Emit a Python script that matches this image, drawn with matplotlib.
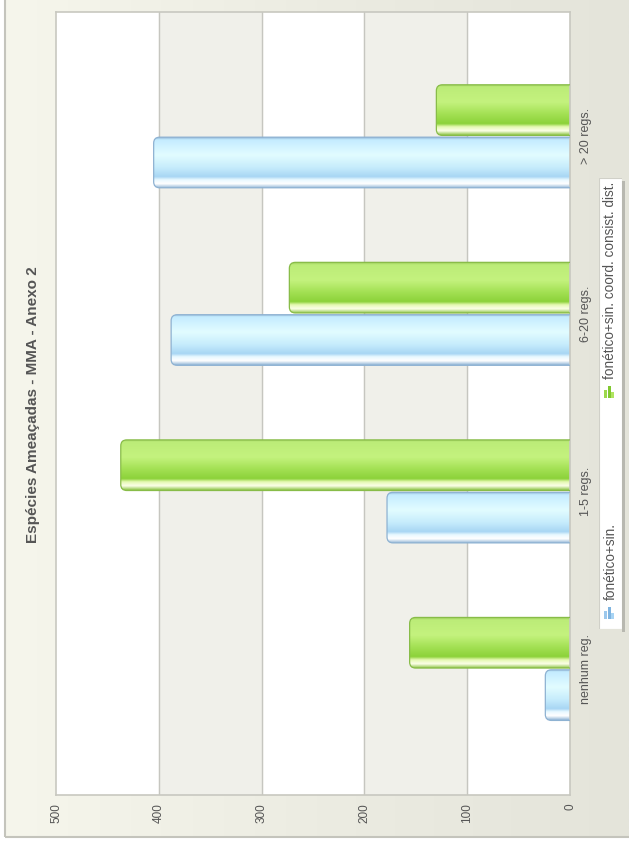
import numpy as np
import matplotlib.pyplot as plt
from matplotlib.patches import FancyBboxPatch, Rectangle
from matplotlib.colors import LinearSegmentedColormap

plt.rcParams['font.family'] = ['Liberation Sans', 'DejaVu Sans']

# Espécies ameaçadas por número de registros (gráfico girado 90°)
categories = ["nenhum reg.", "1-5 regs.", "6-20 regs.", "> 20 regs."]
series_names = ["fonético+sin.", "fonético+sin. coord. consist. dist."]
foneticos = [24, 178, 388, 405]
coord_dist = [156, 437, 273, 130]
value_ticks = [0, 100, 200, 300, 400, 500]

W, H = 629, 852
fig = plt.figure(figsize=(W / 100, H / 100), dpi=100)
fig.patch.set_facecolor("white")

# painel de fundo com degradê suave
bg = fig.add_axes([5 / W, (H - 837) / H, 1 - 5 / W, 837 / H])
bg.set_axis_off()
grad = np.linspace(0, 1, 256).reshape(1, -1)
bg_cmap = LinearSegmentedColormap.from_list("bg", ["#f6f6ec", "#ececE2", "#e4e4da"])
bg.imshow(grad, aspect="auto", cmap=bg_cmap, extent=[0, 1, 0, 1])
bg.add_patch(Rectangle((0, 0), 1.05, 1.05, transform=bg.transAxes, fill=False,
                       edgecolor="#c4c4bc", lw=1.5, clip_on=False))
bg.set_xlim(0, 1)
bg.set_ylim(0, 1)

ax = fig.add_axes([56 / W, 1 - 795 / H, (570 - 56) / W, (795 - 12) / H])
ax.set_facecolor("white")

# faixas alternadas e linhas de grade
for lo in (100, 300):
    ax.axvspan(lo, lo + 100, color="#f0f0ea", zorder=0)
for v in value_ticks[1:-1]:
    ax.axvline(v, color="#c6c6c0", lw=1, zorder=0.5)

for s in ax.spines.values():
    s.set_edgecolor("#c8c8c0")
    s.set_linewidth(1.2)

blue_cmap = LinearSegmentedColormap.from_list("azul", [
    (0.00, "#8fb4d6"), (0.05, "#c4ecff"), (0.35, "#e2fcff"), (0.60, "#c6ecfc"),
    (0.78, "#a8d6f4"), (0.84, "#e8f8ff"), (0.92, "#ffffff"), (1.00, "#94b8d8")])
green_cmap = LinearSegmentedColormap.from_list("verde", [
    (0.00, "#98c858"), (0.05, "#bcec78"), (0.35, "#c4f27e"), (0.60, "#a2e052"),
    (0.78, "#8cd23a"), (0.84, "#e4f8b0"), (0.92, "#fcffe8"), (1.00, "#94c850")])

bar_h = 0.285
px_x = 500 / (570 - 56)
px_y = 4.41 / (795 - 12)
y = np.arange(len(categories))


def gradient_bar(yc, value, cmap, edge):
    y0 = yc - bar_h / 2
    patch = FancyBboxPatch((-20, y0), value + 20, bar_h,
                           boxstyle="round,pad=0,rounding_size=%f" % (6 * px_x),
                           mutation_aspect=px_y / px_x,
                           facecolor="none", edgecolor=edge, lw=0.9, zorder=3)
    ax.add_patch(patch)
    g = np.linspace(0, 1, 128).reshape(-1, 1)
    im = ax.imshow(g, cmap=cmap, aspect="auto", origin="upper",
                   extent=[value, -20, y0, y0 + bar_h], zorder=2,
                   interpolation="bilinear")
    im.set_clip_path(patch)


for i in range(len(categories)):
    gradient_bar(y[i] - bar_h / 2 - 0.005, foneticos[i], blue_cmap, "#8eb2d2")
    gradient_bar(y[i] + bar_h / 2 + 0.005, coord_dist[i], green_cmap, "#88bc48")

ax.set_xlim(500, 0)
ax.set_ylim(-0.71, 3.70)

narrow = ['Liberation Sans Narrow', 'Liberation Sans']
ax.set_xticks(value_ticks)
ax.set_xticklabels([str(v) for v in value_ticks], rotation=90,
                   color="#555555", fontsize=8.5)
ax.set_yticks(y)
ax.set_yticklabels(categories, rotation=90, va="center", color="#555555",
                   fontsize=9, family=narrow)
ax.yaxis.tick_right()
ax.tick_params(length=0, pad=7)
ax.tick_params(axis="x", pad=6)

fig.text(33 / W, 1 - 405 / H, "Espécies Ameaçadas - MMA - Anexo 2",
         rotation=90, ha="center", va="center", fontsize=11,
         fontweight="bold", color="#555555")

# legenda vertical
top, bot = 178, 629
leg = fig.add_axes([599 / W, 1 - bot / H, 23 / W, (bot - top) / H])
leg.set_xlim(0, 1)
leg.set_ylim(bot, top)
leg.set_axis_off()
leg.add_patch(Rectangle((1.0, top + 3), 0.12, bot - top, facecolor="#b8b8b0",
                        edgecolor="none", clip_on=False))
leg.add_patch(Rectangle((0, top), 1, bot - top, facecolor="white",
                        edgecolor="#d0d0c8", lw=0.8))
for (yb, name, cols) in [(619, series_names[0], ["#9cc8ec", "#7fb4e0", "#a8d4f4"]),
                         (398, series_names[1], ["#9cd84c", "#80c830", "#b0e460"])]:
    for k, (hh, c) in enumerate(zip([0.55, 0.85, 0.45], cols)):
        leg.bar(0.28 + k * 0.16, 14 * hh, width=0.14, bottom=yb - 14 * hh,
                color=c)
    leg.text(0.5, yb - 19, name, rotation=90, ha="center", va="bottom",
             fontsize=9.8, color="#555555", family=narrow)

fig.savefig("out.png", dpi=100)
